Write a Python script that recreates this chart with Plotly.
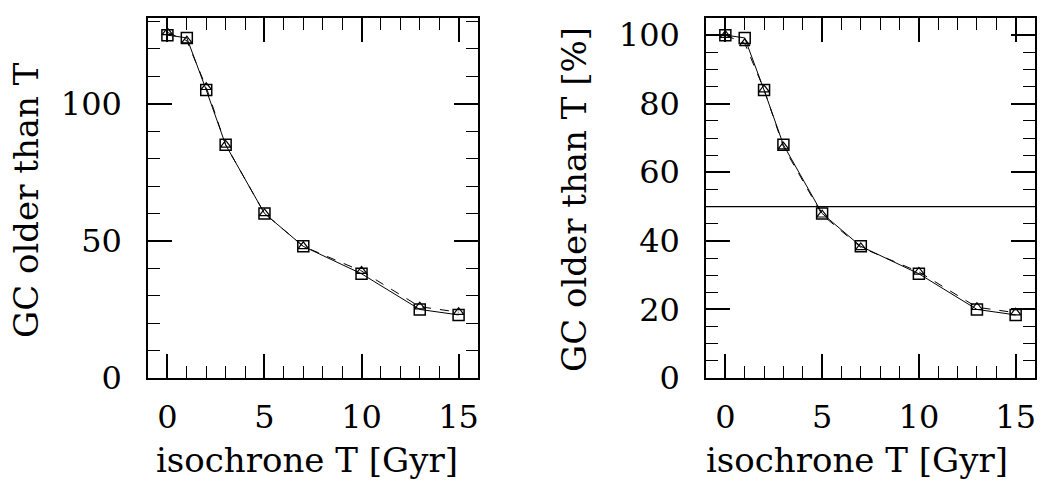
import plotly.graph_objects as go

# Isochrone ages [Gyr] and number of globular clusters older than each age
iso_age = [0, 1, 2, 3, 5, 7, 10, 13, 15]
n_older_a = [125, 124, 105, 85, 60, 48, 38, 25, 23]
n_older_b = [126, 123, 106, 85, 60, 48, 39, 26, 24]

# fractions in percent of the full sample
pct_older_a = [100.0 * v / n_older_a[0] for v in n_older_a]
pct_older_b = [100.0 * v / n_older_b[0] for v in n_older_b]

half_level = 50

FONT = "DejaVu Serif"
W, H = 1041, 485

fig = go.Figure()


def add_pair(xa, ya, ys_a, ys_b):
    fig.add_trace(go.Scatter(
        x=iso_age, y=ys_a, xaxis=xa, yaxis=ya, mode="lines+markers",
        line=dict(color="black", width=1),
        marker=dict(symbol="square-open", size=11, color="black",
                    line=dict(width=1.5, color="black")),
        showlegend=False, hoverinfo="skip"))
    fig.add_trace(go.Scatter(
        x=iso_age, y=ys_b, xaxis=xa, yaxis=ya, mode="lines+markers",
        line=dict(color="black", width=1, dash="dash"),
        marker=dict(symbol="triangle-up-open", size=9, color="black",
                    line=dict(width=1.2, color="black")),
        showlegend=False, hoverinfo="skip"))


add_pair("x", "y", n_older_a, n_older_b)
add_pair("x2", "y2", pct_older_a, pct_older_b)

ydom = [(H - 378) / H, (H - 18) / H]
tickfont = dict(family=FONT, size=32, color="black")

common_x = dict(
    range=[-1, 16], tick0=0, dtick=5, ticks="inside", ticklen=24, tickwidth=1.5,
    tickcolor="black", mirror="ticks", showline=True, linewidth=1.5,
    linecolor="black", showgrid=False, zeroline=False, tickfont=tickfont,
    ticklabelstandoff=10, automargin=False,
    minor=dict(dtick=1, ticks="inside", ticklen=12, tickwidth=1.2,
               tickcolor="black", showgrid=False),
)
common_y = dict(
    tick0=0, ticks="inside", ticklen=24, tickwidth=1.5, tickcolor="black",
    mirror="ticks", showline=True, linewidth=1.5, linecolor="black",
    showgrid=False, tickfont=tickfont, ticklabelstandoff=18, automargin=False,
)

fig.update_layout(
    width=W, height=H,
    margin=dict(l=0, r=0, t=0, b=0),
    paper_bgcolor="white", plot_bgcolor="white",
    xaxis=dict(domain=[148 / W, 478 / W], anchor="y", **common_x),
    xaxis2=dict(domain=[706 / W, 1035 / W], anchor="y2", **common_x),
    yaxis=dict(domain=ydom, anchor="x", range=[0, 131.25], dtick=50,
               zeroline=True, zerolinewidth=3, zerolinecolor="black",
               minor=dict(dtick=10, ticks="inside", ticklen=12, tickwidth=1.2,
                          tickcolor="black", showgrid=False),
               **common_y),
    yaxis2=dict(domain=ydom, anchor="x2", range=[0, 105], dtick=20,
                zeroline=False,
                minor=dict(dtick=5, ticks="inside", ticklen=12, tickwidth=1.2,
                           tickcolor="black", showgrid=False),
                **common_y),
    shapes=[dict(type="line", xref="x2 domain", yref="y2", x0=0, x1=1,
                 y0=half_level, y1=half_level,
                 line=dict(color="black", width=1.2))],
)

title_font = dict(family=FONT, size=34, color="black")
fig.add_annotation(text="isochrone T [Gyr]", xref="paper", yref="paper",
                   x=307 / W, y=(H - 460) / H, showarrow=False,
                   font=title_font, xanchor="center", yanchor="middle")
fig.add_annotation(text="isochrone T [Gyr]", xref="paper", yref="paper",
                   x=857 / W, y=(H - 460) / H, showarrow=False,
                   font=title_font, xanchor="center", yanchor="middle")
fig.add_annotation(text="GC older than T", xref="paper", yref="paper",
                   x=26 / W, y=(H - 200) / H, showarrow=False, textangle=-90,
                   font=title_font, xanchor="center", yanchor="middle")
fig.add_annotation(text="GC older than T [%]", xref="paper", yref="paper",
                   x=574 / W, y=(H - 200) / H, showarrow=False, textangle=-90,
                   font=title_font, xanchor="center", yanchor="middle")

fig.write_html("out.html")
